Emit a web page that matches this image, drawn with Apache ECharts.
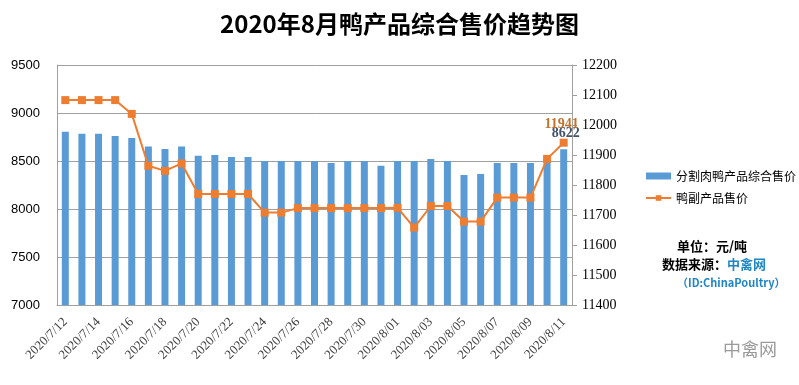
<!DOCTYPE html>
<html><head><meta charset="utf-8">
<script src="https://cdn.jsdelivr.net/npm/echarts@6/dist/echarts.min.js"></script>
<style>html,body{margin:0;padding:0;background:#fff}#c{width:799px;height:385px}</style>
</head><body><div id="c"></div>
<script>
const categories = ['2020/7/12','2020/7/13','2020/7/14','2020/7/15','2020/7/16','2020/7/17','2020/7/18','2020/7/19','2020/7/20','2020/7/21','2020/7/22','2020/7/23','2020/7/24','2020/7/25','2020/7/26','2020/7/27','2020/7/28','2020/7/29','2020/7/30','2020/7/31','2020/8/01','2020/8/02','2020/8/03','2020/8/04','2020/8/05','2020/8/06','2020/8/07','2020/8/08','2020/8/09','2020/8/10','2020/8/11'];
const barValues = [8805,8785,8785,8760,8740,8650,8625,8650,8555,8563,8542,8542,8500,8500,8500,8500,8480,8500,8500,8450,8500,8500,8520,8500,8355,8365,8480,8480,8480,8520,8622];
const lineValues = [12083,12083,12083,12083,12037,11864,11847,11872,11770,11770,11770,11770,11708,11708,11723,11723,11723,11723,11723,11723,11724,11658,11730,11730,11678,11678,11758,11758,11758,11887,11941];
const leftTicks = {min:7000, max:9500, interval:500};
const rightTicks = {min:11400, max:12200, interval:100};
const barName = '分割肉鸭产品综合售价';
const lineName = '鸭副产品售价';

const last = barValues.length - 1;
const barData = barValues.map((v,i)=> i===last ? {value:v, label:{show:true, position:'top', distance:9, offset:[2,0], color:'#44546a', fontWeight:'bold', fontFamily:'Liberation Serif', fontSize:14}} : v);
const lineData = lineValues.map((v,i)=> i===last ? {value:v, label:{show:true, position:'top', distance:7, offset:[-2,0], color:'#c0732f', fontWeight:'bold', fontFamily:'Liberation Serif', fontSize:14}} : v);

const chart = echarts.init(document.getElementById('c'), null, {renderer:'canvas'});
chart.setOption({
  animation:false,
  backgroundColor:'#fff',
  title:{text:'2020年8月鸭产品综合售价趋势图', left:'center', top:7,
    textStyle:{fontFamily:'Noto Sans CJK SC', fontWeight:'bold', fontSize:24, color:'#000'}},
  grid:{left:57, right:227, top:65, bottom:80},
  legend:{orient:'vertical', left:640, top:165, itemGap:10, itemWidth:25, itemHeight:7,
    textStyle:{fontFamily:'Noto Sans CJK SC', fontSize:12, color:'#000'},
    data:[{name:barName, icon:'rect'},{name:lineName}]},
  xAxis:{type:'category', data:categories,
    axisLine:{lineStyle:{color:'#a0a0a0'}}, axisTick:{show:false},
    axisLabel:{interval:1, rotate:45, color:'#404040', fontFamily:'Liberation Serif', fontSize:13, margin:15}},
  yAxis:[
    {type:'value', min:leftTicks.min, max:leftTicks.max, interval:leftTicks.interval,
     axisLine:{show:true, lineStyle:{color:'#a0a0a0'}}, axisTick:{show:false},
     splitLine:{lineStyle:{color:'#a0a0a0'}},
     axisLabel:{color:'#000', fontFamily:'Liberation Sans', fontSize:13, margin:17, formatter:v=>String(v)}},
    {type:'value', min:rightTicks.min, max:rightTicks.max, interval:rightTicks.interval,
     axisLine:{show:true, lineStyle:{color:'#a0a0a0'}}, axisTick:{show:true, length:5, lineStyle:{color:'#a0a0a0'}},
     splitLine:{show:false},
     axisLabel:{color:'#000', fontFamily:'Liberation Serif', fontSize:14, margin:10, formatter:v=>String(v)}}
  ],
  series:[
    {name:barName, type:'bar', yAxisIndex:0, data:barData, barWidth:7, itemStyle:{color:'#5b9bd5'}},
    {name:lineName, type:'line', yAxisIndex:1, data:lineData, symbol:'rect', symbolSize:8,
     lineStyle:{color:'#ed7d31', width:2}, itemStyle:{color:'#ed7d31'}}
  ],
  graphic:[
    {type:'text', left:677, top:240, style:{text:'单位：元/吨', font:'bold 13px "Noto Sans CJK SC"', fill:'#000'}},
    {type:'text', left:662, top:258, style:{text:'数据来源：', font:'bold 13px "Noto Sans CJK SC"', fill:'#000'}},
    {type:'text', left:727, top:258, style:{text:'中禽网', font:'bold 13px "Noto Sans CJK SC"', fill:'#1f86c4'}},
    {type:'text', left:677, top:277, style:{text:'（ID:ChinaPoultry）', font:'bold 11px "Noto Sans CJK SC"', fill:'#1f86c4'}},
    {type:'text', left:723, top:340, style:{text:'中禽网', font:'18px "Noto Sans CJK SC"', fill:'#9a9a9a'}}
  ]
});
</script></body></html>
